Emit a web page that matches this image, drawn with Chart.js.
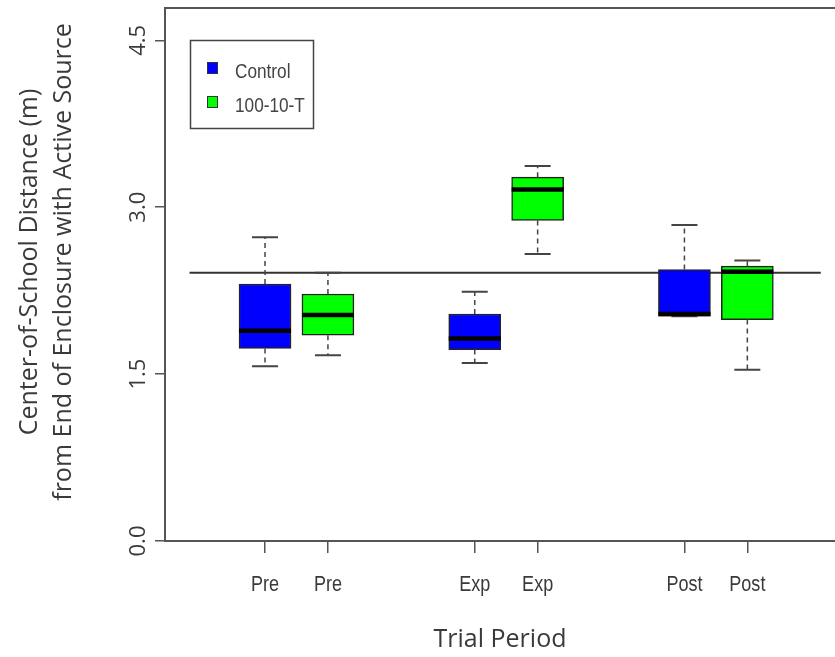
<!DOCTYPE html>
<html>
<head>
<meta charset="utf-8">
<title>Center-of-School Distance</title>
<script src="https://cdn.jsdelivr.net/npm/chart.js"></script>
<style>
  body { margin: 0; background: #fff; }
  #chart-container { width: 835px; height: 657px; }
</style>
</head>
<body>
<div id="chart-container"><canvas id="chart"></canvas></div>
<script>
// box positions on the x axis (R style "at")
const periods = ["Pre", "Exp", "Post"]
const controlPos = [1, 2, 3]
const treatPos = [1.3, 2.3, 3.3]

// Control boxes: whisker low, q1, median, q3, whisker high
const controlLow = [1.57, 1.60, 2.02]
const controlQ1 = [1.73, 1.72, 2.02]
const controlMed = [1.89, 1.82, 2.04]
const controlQ3 = [2.31, 2.04, 2.44]
const controlHigh = [2.73, 2.24, 2.84]

// 100-10-T boxes
const treatLow = [1.67, 2.58, 1.54]
const treatQ1 = [1.85, 2.88, 1.99]
const treatMed = [2.03, 3.16, 2.42]
const treatQ3 = [2.22, 3.27, 2.47]
const treatHigh = [2.41, 3.37, 2.52]

const refValue = 2.41
const refRange = [0.64, 3.65]
const yTicks = [0, 1.5, 3, 4.5]
const yTickLabels = ["0.0", "1.5", "3.0", "4.5"]
const yTitle = ["Center-of-School Distance (m)", "from End of Enclosure with Active Source"]

const series = [
  { label: "Control", color: "#0000ff", pos: controlPos, low: controlLow, q1: controlQ1, med: controlMed, q3: controlQ3, high: controlHigh },
  { label: "100-10-T", color: "#00ff00", pos: treatPos, low: treatLow, q1: treatQ1, med: treatMed, q3: treatQ3, high: treatHigh }
]

const textColor = "#3a3a3a"
const axisColor = "#555"
const narrowFont = "'Liberation Sans', Arial, sans-serif"

// Arial Narrow look: squeeze Liberation Sans horizontally
function narrowText(ctx, text, x, y) {
  ctx.save()
  ctx.translate(x, y)
  ctx.scale(0.82, 1)
  ctx.fillText(text, 0, 0)
  ctx.restore()
}

// whiskers, caps, medians, rotated y labels, x labels, legend
const boxExtras = {
  id: "boxExtras",
  afterDatasetsDraw(chart) {
    const ctx = chart.ctx
    const x = chart.scales.x
    const y = chart.scales.y
    ctx.save()
    series.forEach(s => {
      s.pos.forEach((p, i) => {
        const cx = x.getPixelForValue(p)
        const halfBox = 26
        const halfCap = 13
        ctx.strokeStyle = "#444"
        ctx.lineWidth = 1.5
        ctx.setLineDash([5, 4])
        ctx.beginPath()
        ctx.moveTo(cx, y.getPixelForValue(s.q3[i]))
        ctx.lineTo(cx, y.getPixelForValue(s.high[i]))
        ctx.moveTo(cx, y.getPixelForValue(s.q1[i]))
        ctx.lineTo(cx, y.getPixelForValue(s.low[i]))
        ctx.stroke()
        ctx.setLineDash([])
        ctx.lineWidth = 2
        ctx.beginPath()
        ctx.moveTo(cx - halfCap, y.getPixelForValue(s.high[i]))
        ctx.lineTo(cx + halfCap, y.getPixelForValue(s.high[i]))
        ctx.moveTo(cx - halfCap, y.getPixelForValue(s.low[i]))
        ctx.lineTo(cx + halfCap, y.getPixelForValue(s.low[i]))
        ctx.stroke()
        // median
        ctx.strokeStyle = "#000"
        ctx.lineWidth = 4.5
        ctx.beginPath()
        ctx.moveTo(cx - halfBox, y.getPixelForValue(s.med[i]))
        ctx.lineTo(cx + halfBox, y.getPixelForValue(s.med[i]))
        ctx.stroke()
      })
    })
    ctx.restore()
  },
  afterDraw(chart) {
    const ctx = chart.ctx
    const area = chart.chartArea
    const x = chart.scales.x
    const y = chart.scales.y
    ctx.save()
    // top frame line
    ctx.strokeStyle = axisColor
    ctx.lineWidth = 2
    ctx.beginPath()
    ctx.moveTo(area.left, area.top)
    ctx.lineTo(area.right, area.top)
    ctx.stroke()
    // y tick labels and title, parallel to the axis
    ctx.fillStyle = textColor
    ctx.textAlign = "center"
    ctx.textBaseline = "middle"
    ctx.font = "22px 'Open Sans'"
    yTicks.forEach((v, i) => {
      ctx.save()
      ctx.translate(139, y.getPixelForValue(v))
      ctx.rotate(-Math.PI / 2)
      ctx.fillText(yTickLabels[i], 0, 0)
      ctx.restore()
    })
    ctx.font = "25px 'Open Sans'"
    yTitle.forEach((line, i) => {
      ctx.save()
      ctx.translate(30 + i * 34, 262)
      ctx.rotate(-Math.PI / 2)
      ctx.fillText(line, 0, 0)
      ctx.restore()
    })
    // x tick labels
    ctx.font = "22px " + narrowFont
    x.ticks.forEach(t => {
      narrowText(ctx, xLabelFor(t.value), x.getPixelForValue(t.value), 585)
    })
    // legend box
    ctx.strokeStyle = "#444"
    ctx.lineWidth = 1.5
    ctx.strokeRect(190.5, 40.5, 123, 88)
    ctx.font = "21px " + narrowFont
    ctx.textAlign = "left"
    series.forEach((s, i) => {
      const ly = 68 + i * 34
      ctx.fillStyle = s.color
      ctx.fillRect(207, ly - 6, 11, 12)
      ctx.strokeStyle = "#333"
      ctx.lineWidth = 1
      ctx.strokeRect(207.5, ly - 5.5, 10, 11)
      ctx.fillStyle = "#444"
      narrowText(ctx, s.label, 235, ly + 4)
    })
    ctx.restore()
  }
}

const datasets = series.map(s => ({
  type: "bar",
  label: s.label,
  data: s.pos.map((p, i) => ({ x: p, y: [s.q1[i], s.q3[i]] })),
  backgroundColor: s.color,
  borderColor: "#222",
  borderWidth: 1.5,
  borderSkipped: false,
  barThickness: 52,
  grouped: false,
  order: 1
}))

datasets.push({
  type: "line",
  label: "reference",
  data: refRange.map(v => ({ x: v, y: refValue })),
  borderColor: "#333",
  borderWidth: 2,
  pointRadius: 0,
  order: 2
})

function xLabelFor(v) {
  let i = controlPos.indexOf(v)
  if (i < 0) i = treatPos.indexOf(v)
  return i < 0 ? "" : periods[i]
}

new Chart(document.getElementById("chart"), {
  type: "bar",
  data: { datasets: datasets },
  options: {
    responsive: true,
    maintainAspectRatio: false,
    animation: false,
    devicePixelRatio: 1,
    layout: { padding: { top: 8, right: 0, left: 0, bottom: 0 } },
    plugins: { legend: { display: false }, tooltip: { enabled: false } },
    scales: {
      x: {
        type: "linear",
        min: 0.523,
        max: 3.718,
        offset: false,
        afterBuildTicks: scale => { scale.ticks = controlPos.concat(treatPos).sort().map(v => ({ value: v })) },
        afterFit: scale => { scale.height = 116 },
        grid: { display: true, offset: false, drawOnChartArea: false, drawTicks: true, tickLength: 12, color: axisColor, lineWidth: 1.5 },
        border: { display: true, color: axisColor, width: 2 },
        ticks: { display: false },
        title: {
          display: true,
          text: "Trial Period",
          color: textColor,
          font: { family: "'Open Sans'", size: 25 },
          padding: { top: 0, bottom: 2 }
        }
      },
      y: {
        type: "linear",
        min: 0,
        max: 4.79,
        afterBuildTicks: scale => { scale.ticks = yTicks.map(v => ({ value: v })) },
        afterFit: scale => { scale.width = 165 },
        grid: { display: true, drawOnChartArea: false, drawTicks: true, tickLength: 10, color: axisColor, lineWidth: 1.5 },
        border: { display: true, color: axisColor, width: 2 },
        ticks: { display: false },
        title: { display: false }
      }
    }
  },
  plugins: [boxExtras]
})
</script>
</body>
</html>
